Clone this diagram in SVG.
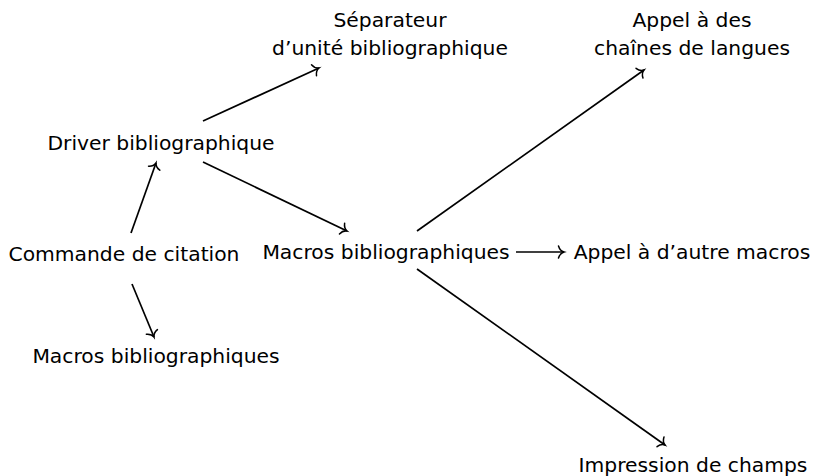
<svg xmlns="http://www.w3.org/2000/svg" width="816" height="476" viewBox="0 0 816 476">
<style>
text{font-family:"DejaVu Sans",sans-serif;font-size:20.3px;fill:#000;text-anchor:middle}
.c line{stroke:#000;stroke-width:1.7;fill:none;marker-end:url(#to)}
</style>
<defs>
<marker id="to" markerUnits="userSpaceOnUse" viewBox="-7 -7 9 14" refX="0" refY="0" markerWidth="9" markerHeight="14" orient="auto" overflow="visible">
<path d="M-5.5,-6 C-4.5,-2.7 -2.2,-0.6 0,0 C-2.2,0.6 -4.5,2.7 -5.5,6" fill="none" stroke="#000" stroke-width="1.5" stroke-linecap="round"/>
</marker>
</defs>
<rect width="816" height="476" fill="#fff"/>
<g id="sep"><text x="390" y="27">Séparateur</text><text x="390" y="55">d’unité bibliographique</text></g>
<g id="langues"><text x="692" y="27">Appel à des</text><text x="692" y="55">chaînes de langues</text></g>
<g id="driver"><text x="161" y="150">Driver bibliographique</text></g>
<g id="commande"><text x="124" y="261">Commande de citation</text></g>
<g id="macros"><text x="386" y="259">Macros bibliographiques</text></g>
<g id="autre"><text x="692" y="259">Appel à d’autre macros</text></g>
<g id="macros2"><text x="156" y="363">Macros bibliographiques</text></g>
<g id="champs"><text x="693" y="472">Impression de champs</text></g>
<g class="c" id="connectors">
<line x1="131" y1="233" x2="156" y2="163"/>
<line x1="132" y1="284" x2="154" y2="337"/>
<line x1="203" y1="121" x2="319" y2="68"/>
<line x1="203" y1="162" x2="347" y2="231"/>
<line x1="417" y1="231" x2="644" y2="70"/>
<line x1="516" y1="252" x2="564" y2="252"/>
<line x1="417" y1="269" x2="665" y2="445"/>
</g>
</svg>
